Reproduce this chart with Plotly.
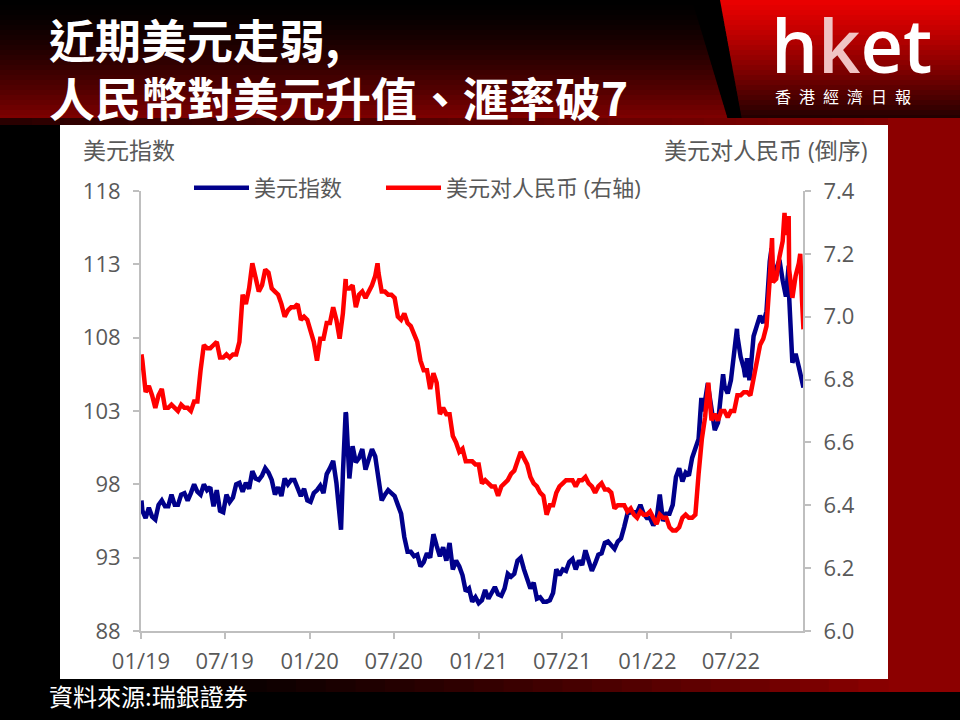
import plotly.graph_objects as go
import pandas as pd

# ---------------- data ----------------
week_dates = pd.date_range('2019-01-04', '2022-12-02', freq='W-FRI')

dxy_weekly = [
    # 2019
    96.2, 95.7, 96.4, 95.8,
    95.6, 96.6, 96.9, 96.5,
    96.5, 97.3, 96.6, 96.6, 97.3,
    97.4, 96.9, 97.4, 98.0,
    97.5, 97.3, 98.0, 97.6, 97.8,
    96.5, 97.6, 96.2, 96.1,
    97.3, 96.8, 97.1, 98.0,
    98.1, 97.5, 98.1, 97.7, 98.9,
    98.4, 98.3, 98.6, 99.1,
    98.8, 98.3, 97.3, 97.8,
    97.2, 98.4, 98.0, 98.3, 98.3,
    97.7, 97.2, 97.7, 96.9,
    # 2020
    96.8, 97.4, 97.6, 97.9, 97.4,
    98.7, 99.1, 99.6, 98.1,
    96.0, 98.7, 102.8, 98.4,
    100.6, 99.5, 99.8, 100.4,
    99.0, 99.7, 100.4, 99.9, 98.4,
    96.9, 97.3, 97.6, 97.4,
    97.2, 96.6, 96.0, 94.4, 93.4,
    93.4, 93.1, 93.2, 92.4,
    92.7, 93.3, 93.0, 94.6,
    93.8, 93.1, 93.7, 92.8, 94.0,
    92.2, 92.8, 92.4, 91.8,
    90.7, 90.9, 90.0, 90.3,
    # 2021
    89.9, 90.1, 90.8, 90.2, 90.6,
    91.0, 90.5, 90.4, 90.9,
    91.9, 91.7, 91.9, 92.8,
    93.0, 92.2, 91.6, 90.9, 91.3,
    90.2, 90.3, 90.0, 90.0,
    90.1, 90.6, 92.2, 91.8,
    92.2, 92.1, 92.7, 92.9, 92.2,
    92.8, 92.5, 93.5, 92.7,
    92.1, 92.6, 93.2, 93.3,
    94.0, 94.1, 93.9, 93.6, 94.1,
    94.3, 95.1, 96.0, 96.1,
    96.1, 96.1, 96.6, 96.0, 95.7,
    # 2022
    95.7, 95.2, 95.6, 97.3,
    95.5, 96.0, 96.0, 96.6,
    98.5, 99.1, 98.2, 98.8,
    98.6, 99.8, 100.5, 101.1, 103.0,
    103.7, 104.6, 103.0, 101.7,
    102.2, 104.2, 104.7, 104.2,
    105.1, 106.9, 108.1, 106.7, 105.9,
    106.6, 105.6, 108.1, 108.8,
    109.5, 109.0, 109.8, 113.2, 112.1,
    112.8, 113.3, 111.9, 110.8,
    110.8, 106.3, 106.9, 106.0,
    104.9,
]
dxy_extra_dates = ['2019-01-02', '2020-03-09', '2020-03-19', '2022-04-28', '2022-05-12',
                   '2022-06-14', '2022-07-14', '2022-08-01', '2022-08-10', '2022-09-27',
                   '2022-11-03', '2022-12-05']
dxy_extra = [96.9, 94.9, 102.9, 103.9, 104.9, 105.5, 108.6, 105.3, 105.1, 114.1, 112.9, 104.6]

cny_weekly = [
    # 2019
    6.86, 6.76, 6.78, 6.75,
    6.71, 6.75, 6.77, 6.71,
    6.71, 6.72, 6.71, 6.70, 6.72,
    6.71, 6.71, 6.70, 6.73,
    6.73, 6.83, 6.91, 6.90, 6.90,
    6.91, 6.92, 6.87, 6.87,
    6.88, 6.87, 6.88, 6.88,
    6.92, 7.07, 7.04, 7.09, 7.17,
    7.12, 7.08, 7.10, 7.15,
    7.14, 7.09, 7.08, 7.07,
    7.04, 7.00, 7.02, 7.03, 7.03,
    7.04, 6.99, 7.00, 6.99,
    # 2020
    6.96, 6.92, 6.86, 6.93, 6.93,
    6.98, 6.98, 7.03, 6.99,
    6.93, 7.01, 7.09, 7.09,
    7.10, 7.03, 7.07, 7.08,
    7.06, 7.08, 7.10, 7.13, 7.14,
    7.08, 7.08, 7.07, 7.07,
    7.06, 7.00, 6.99, 7.01, 6.98,
    6.97, 6.94, 6.92, 6.86,
    6.83, 6.83, 6.77, 6.82,
    6.79, 6.69, 6.71, 6.69, 6.69,
    6.62, 6.60, 6.57, 6.58,
    6.54, 6.54, 6.54, 6.53,
    # 2021
    6.53, 6.47, 6.48, 6.47, 6.46,
    6.46, 6.43, 6.46, 6.47,
    6.48, 6.50, 6.51, 6.54,
    6.57, 6.55, 6.53, 6.49, 6.47,
    6.46, 6.44, 6.43, 6.37,
    6.40, 6.40, 6.44, 6.46,
    6.47, 6.48, 6.48, 6.48, 6.46,
    6.48, 6.48, 6.49, 6.47,
    6.46, 6.44, 6.46, 6.47,
    6.45, 6.45, 6.44, 6.39, 6.40,
    6.40, 6.40, 6.38, 6.39,
    6.37, 6.36, 6.38, 6.37, 6.37,
    # 2022
    6.38, 6.36, 6.34, 6.37,
    6.36, 6.36, 6.33, 6.32,
    6.32, 6.33, 6.36, 6.37,
    6.36, 6.36, 6.37, 6.50, 6.61,
    6.68, 6.79, 6.67, 6.69,
    6.67, 6.70, 6.70, 6.68,
    6.70, 6.70, 6.75, 6.75, 6.76,
    6.76, 6.75, 6.80, 6.86,
    6.91, 6.93, 6.97, 7.12, 7.11,
    7.12, 7.19, 7.24, 7.26,
    7.15, 7.06, 7.13, 7.17,
    7.05,
]
cny_extra_dates = ['2019-01-02', '2020-03-19', '2020-05-27', '2021-03-31', '2022-09-28',
                   '2022-10-25', '2022-11-03', '2022-11-28', '2022-12-05']
cny_extra = [6.88, 7.12, 7.17, 6.57, 7.25, 7.33, 7.32, 7.20, 6.96]

x_tick_vals = ['2019-01-01', '2019-07-01', '2020-01-01', '2020-07-01',
               '2021-01-01', '2021-07-01', '2022-01-01', '2022-07-01']
x_tick_text = ['01/19', '07/19', '01/20', '07/20', '01/21', '07/21', '01/22', '07/22']
left_ticks = [88, 93, 98, 103, 108, 113, 118]
right_ticks = [6.0, 6.2, 6.4, 6.6, 6.8, 7.0, 7.2, 7.4]

series_names = ['美元指数', '美元对人民币 (右轴)']
title_lines = ['近期美元走弱,', '人民幣對美元升值、滙率破7']
source_text = '資料來源:瑞銀證券'


def merge(weekly, extra_dates, extra_vals):
    s1 = pd.Series(weekly, index=week_dates[:len(weekly)])
    s2 = pd.Series(extra_vals, index=pd.to_datetime(extra_dates))
    s = pd.concat([s1, s2]).sort_index()
    return s


dxy = merge(dxy_weekly, dxy_extra_dates, dxy_extra)
cny = merge(cny_weekly, cny_extra_dates, cny_extra)

# ---------------- layout helpers ----------------
W, H = 960, 720
L, R, T, B = 141, 157, 191, 89
PW, PH = W - L - R, H - T - B


def px(x):
    return (x - L) / PW


def py(y):
    return (H - B - y) / PH


shapes = []


def rect(x0, y0, x1, y1, color):
    shapes.append(dict(type='rect', xref='paper', yref='paper', layer='below',
                       x0=px(x0), x1=px(x1), y0=py(y1), y1=py(y0),
                       fillcolor=color, line=dict(width=0)))


def poly(pts, color):
    d = 'M ' + ' L '.join(f'{px(a):.5f},{py(b):.5f}' for a, b in pts) + ' Z'
    shapes.append(dict(type='path', xref='paper', yref='paper', layer='below',
                       path=d, fillcolor=color, line=dict(width=0)))


# title band (vertical gradient, black -> dark red)
n = 24
for i in range(n):
    y0 = 120 * i / n
    y1 = 120 * (i + 1) / n + 0.6
    t = (i + 0.5) / n
    r = int(130 * t ** 1.5)
    xa = 692 + (728 - 692) * y0 / 120
    xb = 692 + (728 - 692) * min(y1, 120) / 120
    poly([(0, y0), (xa, y0), (xb, y1), (0, y1)], f'rgb({r},0,0)')

# red logo block (slanted, red -> dark)
for i in range(n):
    y0 = 120 * i / n
    y1 = 120 * (i + 1) / n + 0.6
    t = (i + 0.5) / n
    r = int(235 - 205 * t ** 1.2)
    xa = 720 + (742 - 720) * y0 / 120
    xb = 720 + (742 - 720) * min(y1, 120) / 120
    poly([(xa, y0), (W, y0), (W, y1), (xb, y1)], f'rgb({r},0,0)')

# separator strip under the title band
m = 30
for i in range(m):
    x0 = W * i / m
    x1 = W * (i + 1) / m + 0.6
    t = (i + 0.5) / m
    r = int(40 + 100 * t)
    rect(x0, 118, x1, 125, f'rgb({r},0,0)')

# right red column
rect(888, 118, W, 692, 'rgb(140,0,0)')
# bottom strip gradient
for i in range(m):
    x0 = 888 * i / m
    x1 = 888 * (i + 1) / m + 0.6
    t = (i + 0.5) / m
    r = int(140 * max(0, (t - 0.15) / 0.85) ** 1.3)
    rect(x0, 679, x1, 692, f'rgb({r},0,0)')
# white chart panel
rect(60, 125, 888, 679, 'white')

GREY = '#595959'
AX = '#bfbfbf'
FONT = 'Open Sans, Noto Sans CJK SC, sans-serif'

fig = go.Figure()
fig.add_trace(go.Scatter(x=dxy.index, y=dxy.values, name=series_names[0], mode='lines',
                         line=dict(color='#00008B', width=4.5), legendwidth=122))
fig.add_trace(go.Scatter(x=cny.index, y=cny.values, name=series_names[1], mode='lines',
                         line=dict(color='#FF0000', width=4.5), yaxis='y2'))

annotations = [
    dict(text='<b>' + title_lines[0] + '</b>', x=px(48), y=py(38), xanchor='left', yanchor='middle',
         font=dict(size=46, color='white', family='Noto Sans CJK TC', weight=900)),
    dict(text='<b>' + title_lines[1] + '</b>', x=px(48), y=py(96), xanchor='left', yanchor='middle',
         font=dict(size=46, color='white', family='Noto Sans CJK TC', weight=900)),
    dict(text='h<span style="color:#f0c4c4">k</span>et', x=px(770), y=py(44), xanchor='left', yanchor='middle',
         font=dict(size=74, color='white', family='Open Sans', weight=600)),
    dict(text='香\u2002港\u2002經\u2002濟\u2002日\u2002報', x=px(774), y=py(96), xanchor='left', yanchor='middle',
         font=dict(size=16, color='white', family='Noto Sans CJK TC')),
    dict(text=source_text, x=px(48), y=py(695), xanchor='left', yanchor='middle',
         font=dict(size=24, color='white', family='Noto Sans CJK TC')),
    dict(text='美元指数', x=px(82), y=py(150), xanchor='left', yanchor='middle',
         font=dict(size=23, color=GREY, family=FONT)),
    dict(text='美元对人民币 (倒序)', x=px(869), y=py(150), xanchor='right', yanchor='middle',
         font=dict(size=23, color=GREY, family=FONT)),
]
for a in annotations:
    a.update(xref='paper', yref='paper', showarrow=False, borderpad=0)

fig.update_layout(
    width=W, height=H,
    margin=dict(l=L, r=R, t=T, b=B, pad=0),
    paper_bgcolor='black',
    plot_bgcolor='rgba(0,0,0,0)',
    font=dict(family=FONT, size=22, color=GREY),
    showlegend=True,
    legend=dict(orientation='h', x=px(189), y=py(188), xanchor='left', yanchor='middle',
                bgcolor='rgba(0,0,0,0)', font=dict(size=22, color=GREY, family=FONT),
                itemwidth=55, tracegroupgap=0),
    xaxis=dict(type='date', range=['2019-01-01', '2022-12-04'],
               tickvals=x_tick_vals, ticktext=x_tick_text,
               showline=True, linecolor=AX, linewidth=2, ticks='outside', ticklen=6,
               tickcolor=AX, tickwidth=2, showgrid=False, zeroline=False,
               tickfont=dict(size=22, color=GREY), ticklabelstandoff=4),
    yaxis=dict(range=[88, 118], tickvals=left_ticks, showline=True, linecolor=AX, linewidth=2,
               ticks='outside', ticklen=6, tickcolor=AX, tickwidth=2, showgrid=False,
               zeroline=False, tickfont=dict(size=22, color=GREY), ticklabelstandoff=8),
    yaxis2=dict(range=[6.0, 7.4], tickvals=right_ticks, tickformat='.1f', overlaying='y',
                side='right', showline=True, linecolor=AX, linewidth=2, ticks='outside',
                ticklen=6, tickcolor=AX, tickwidth=2, showgrid=False, zeroline=False,
                tickfont=dict(size=22, color=GREY), ticklabelstandoff=8),
    shapes=shapes,
    annotations=annotations,
)

fig.write_html('out.html', config={'displayModeBar': False},
               post_script="document.body.style.margin='0';document.body.style.overflow='hidden';")
